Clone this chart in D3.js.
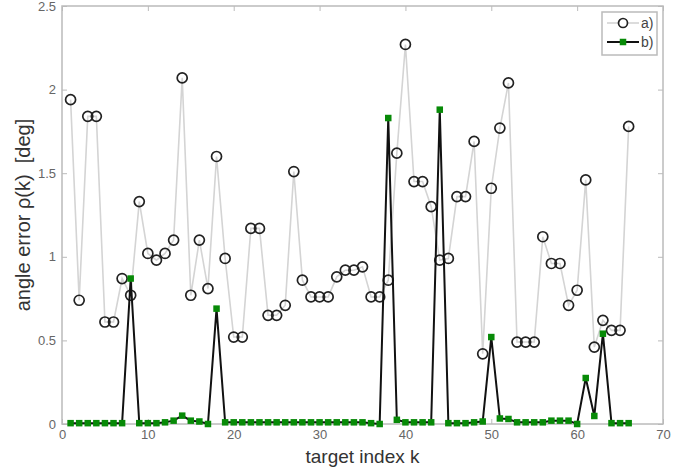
<!DOCTYPE html>
<html>
<head>
<meta charset="utf-8">
<script src="https://cdn.jsdelivr.net/npm/d3@7"></script>
<style>
  body { margin: 0; background: #fff; }
  svg text { font-family: "Liberation Sans", Arial, sans-serif; white-space: pre; }
</style>
</head>
<body>
<svg id="chart" width="699" height="472"></svg>
<script>
// target index k = 1..66
const seriesA = [
  1.94, 0.74, 1.84, 1.84, 0.61, 0.61, 0.87, 0.77, 1.33, 1.02,
  0.98, 1.02, 1.10, 2.07, 0.77, 1.10, 0.81, 1.60, 0.99, 0.52,
  0.52, 1.17, 1.17, 0.65, 0.65, 0.71, 1.51, 0.86, 0.76, 0.76,
  0.76, 0.88, 0.92, 0.92, 0.94, 0.76, 0.76, 0.86, 1.62, 2.27,
  1.45, 1.45, 1.30, 0.98, 0.99, 1.36, 1.36, 1.69, 0.42, 1.41,
  1.77, 2.04, 0.49, 0.49, 0.49, 1.12, 0.96, 0.96, 0.71, 0.80,
  1.46, 0.46, 0.62, 0.56, 0.56, 1.78
];
const seriesB = [
  0.005, 0.005, 0.005, 0.005, 0.005, 0.005, 0.005, 0.87, 0.005, 0.005,
  0.005, 0.01, 0.02, 0.05, 0.02, 0.015, 0.0, 0.69, 0.01, 0.01,
  0.01, 0.01, 0.01, 0.01, 0.01, 0.01, 0.01, 0.01, 0.01, 0.01,
  0.01, 0.01, 0.01, 0.01, 0.01, 0.005, 0.0, 1.83, 0.025, 0.01,
  0.01, 0.01, 0.01, 1.88, 0.005, 0.005, 0.005, 0.01, 0.015, 0.52,
  0.033, 0.03, 0.01, 0.01, 0.01, 0.01, 0.02, 0.02, 0.02, 0.0,
  0.275, 0.048, 0.54, 0.005, 0.005, 0.005
];
const xTicks = [0, 10, 20, 30, 40, 50, 60, 70];
const yTicks = [0, 0.5, 1, 1.5, 2, 2.5];
const legendLabels = ['a)', 'b)'];

const svgW = 699, svgH = 472;
const margin = { top: 6, right: 36, bottom: 48, left: 62 };
const width = svgW - margin.left - margin.right;
const height = svgH - margin.top - margin.bottom;

const svg = d3.select('#chart');
const g = svg.append('g')
  .attr('transform', `translate(${margin.left},${margin.top})`);

const x = d3.scaleLinear().domain([0, 70]).range([0, width]);
const y = d3.scaleLinear().domain([0, 2.5]).range([height, 0]);

const dataA = seriesA.map((v, i) => ({ k: i + 1, v }));
const dataB = seriesB.map((v, i) => ({ k: i + 1, v }));

// axes (MATLAB style: ticks inside, box around)
const tickColor = '#bbb';
const labelColor = '#666';

function styleAxis(sel) {
  sel.select('.domain').remove();
  sel.selectAll('.tick line').attr('stroke', tickColor);
  sel.selectAll('.tick text')
    .attr('fill', labelColor)
    .attr('font-size', '13px');
}

g.append('g')
  .attr('transform', `translate(0,${height})`)
  .call(d3.axisBottom(x).tickValues(xTicks).tickSize(-5).tickPadding(6).tickFormat(d3.format('d')))
  .call(styleAxis);
g.append('g')
  .call(d3.axisTop(x).tickValues(xTicks).tickSize(-5).tickFormat(''))
  .call(styleAxis);
g.append('g')
  .call(d3.axisLeft(y).tickValues(yTicks).tickSize(-5).tickPadding(6).tickFormat(d => String(d)))
  .call(styleAxis);
g.append('g')
  .attr('transform', `translate(${width},0)`)
  .call(d3.axisRight(y).tickValues(yTicks).tickSize(-5).tickFormat(''))
  .call(styleAxis);

g.append('rect')
  .attr('width', width)
  .attr('height', height)
  .attr('fill', 'none')
  .attr('stroke', tickColor)
  .attr('stroke-width', 1.5);

// series a)
const line = d3.line().x(d => x(d.k)).y(d => y(d.v));

g.append('path')
  .datum(dataA)
  .attr('d', line)
  .attr('fill', 'none')
  .attr('stroke', '#d4d4d4')
  .attr('stroke-width', 1.6);

g.append('g')
  .selectAll('circle')
  .data(dataA)
  .join('circle')
  .attr('cx', d => x(d.k))
  .attr('cy', d => y(d.v))
  .attr('r', 5)
  .attr('fill', 'none')
  .attr('stroke', '#222')
  .attr('stroke-width', 1.7);

// series b)
g.append('path')
  .datum(dataB)
  .attr('d', line)
  .attr('fill', 'none')
  .attr('stroke', '#111')
  .attr('stroke-width', 2);

const sq = 6.5;
g.append('g')
  .selectAll('rect')
  .data(dataB)
  .join('rect')
  .attr('x', d => x(d.k) - sq / 2)
  .attr('y', d => y(d.v) - sq / 2)
  .attr('width', sq)
  .attr('height', sq)
  .attr('fill', '#078a07');

// axis labels
svg.append('text')
  .attr('x', margin.left + width / 2)
  .attr('y', 463)
  .attr('text-anchor', 'middle')
  .attr('font-size', '19px')
  .attr('fill', '#333')
  .text('target index k');

svg.append('text')
  .attr('transform', `translate(30,${margin.top + height / 2}) rotate(-90)`)
  .attr('text-anchor', 'middle')
  .attr('font-size', '20px')
  .attr('fill', '#333')
  .text('angle error \u03c1(k)  [deg]');

// legend
const legend = svg.append('g').attr('transform', 'translate(602,12)');
legend.append('rect')
  .attr('width', 55)
  .attr('height', 43)
  .attr('fill', '#fff')
  .attr('stroke', '#bbb')
  .attr('stroke-width', 1.5);

legendLabels.forEach((lab, i) => {
  const ly = 11 + i * 19;
  legend.append('line')
    .attr('x1', 5).attr('x2', 37)
    .attr('y1', ly).attr('y2', ly)
    .attr('stroke', i === 0 ? '#d4d4d4' : '#111')
    .attr('stroke-width', i === 0 ? 1.6 : 2);
  if (i === 0) {
    legend.append('circle')
      .attr('cx', 21).attr('cy', ly).attr('r', 4.5)
      .attr('fill', '#fff').attr('stroke', '#222').attr('stroke-width', 1.7);
  } else {
    legend.append('rect')
      .attr('x', 21 - sq / 2).attr('y', ly - sq / 2)
      .attr('width', sq).attr('height', sq)
      .attr('fill', '#078a07');
  }
  legend.append('text')
    .attr('x', 39)
    .attr('y', ly + 5)
    .attr('font-size', '14px')
    .attr('fill', '#444')
    .text(lab);
});
</script>
</body>
</html>
